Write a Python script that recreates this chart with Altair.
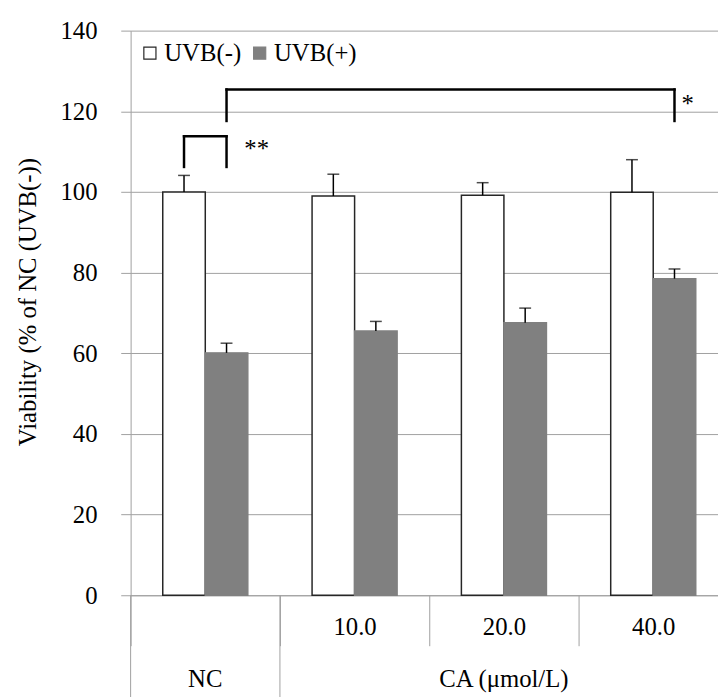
import altair as alt
import pandas as pd

# ---------------- data ----------------
groups = ["NC", "10.0", "20.0", "40.0"]
series = ["UVB(-)", "UVB(+)"]
uvb_minus = [100.0, 99.0, 99.2, 99.9]
uvb_minus_sd = [4.1, 5.4, 3.1, 8.1]
uvb_plus = [60.1, 65.5, 67.6, 78.5]
uvb_plus_sd = [2.4, 2.4, 3.6, 2.4]
y_ticks = [0, 20, 40, 60, 80, 100, 120, 140]
y_title = "Viability (% of NC (UVB(-))"
row2_groups = ["NC", "20.0"]
row2_labels = ["NC", "CA (μmol/L)"]
divider_groups = ["NC", "10.0"]

# significance brackets: (group, series) -> (group, series)
sig_from = [("NC", "UVB(-)"), ("NC", "UVB(+)")]
sig_to = [("NC", "UVB(+)"), ("40.0", "UVB(+)")]
sig_top = [113.8, 125.4]
sig_left_low = [106.2, 117.6]
sig_right_low = [106.2, 117.6]
sig_text = ["**", "*"]
sig_text_level = [108.7, 119.8]

# ---------------- style ----------------
FONT = "Liberation Serif"
FS = 25
GRID = "#a0a0a0"
BAR_GRAY = "#808080"
STEP = 151
BAR_W = 43
bar_frac = BAR_W / STEP
off_pad = (1 / bar_frac - 2) / 2
bp_center = {"UVB(-)": 0.5 - bar_frac / 2, "UVB(+)": 0.5 + bar_frac / 2}

rows = []
for g, v, e in zip(groups, uvb_minus, uvb_minus_sd):
    rows.append({"group": g, "series": "UVB(-)", "value": v, "upper": v + e})
for g, v, e in zip(groups, uvb_plus, uvb_plus_sd):
    rows.append({"group": g, "series": "UVB(+)", "value": v, "upper": v + e})
df = pd.DataFrame(rows)

x_scale = alt.Scale(domain=groups, range=[0, 4 * STEP], paddingInner=0, paddingOuter=0)
x_axis = alt.Axis(
    title=None,
    labelExpr="datum.value == 'NC' ? '' : datum.value",
    tickBand="extent",
    tickSize=51,
    tickColor=GRID,
    tickWidth=1,
    domainColor=GRID,
    domainWidth=1,
    labelPadding=-19,
    labelBaseline="middle",
    labelAngle=0,
    labelFont=FONT,
    labelFontSize=FS,
    labelFontWeight="normal",
    labelColor="black",
    labelOverlap=False,
    grid=False,
)
y_scale = alt.Scale(domain=[0, 140], nice=False, zero=True)
y_axis = alt.Axis(
    title=y_title,
    values=y_ticks,
    grid=True,
    gridColor=GRID,
    gridWidth=1,
    domainColor=GRID,
    domainWidth=1,
    tickColor=GRID,
    tickSize=10,
    tickWidth=1,
    labelPadding=24,
    labelFont=FONT,
    labelFontSize=FS,
    labelFontWeight="normal",
    labelColor="black",
    titleFont=FONT,
    titleFontSize=FS,
    titleFontWeight="normal",
    titleColor="black",
    titleX=-104,
    titleY=274,
    titleAngle=270,
    titleAlign="center",
    titleBaseline="middle",
)


def X(field="group", bp=None):
    kw = dict(scale=x_scale, axis=x_axis)
    if bp is not None:
        kw["bandPosition"] = bp
    return alt.X(f"{field}:N", **kw)


def Y(field):
    return alt.Y(f"{field}:Q", scale=y_scale, axis=y_axis)


xoff = alt.XOffset("series:N", scale=alt.Scale(domain=series, paddingInner=0, paddingOuter=off_pad))

legend = alt.Legend(
    orient="none", legendX=7, legendY=10, direction="horizontal", title=None,
    symbolType="square", symbolSize=150, symbolStrokeWidth=1.2,
    labelFont=FONT, labelFontSize=FS, labelColor="black", labelOffset=2,
    columnPadding=6, padding=0,
)

bars = alt.Chart(df).mark_bar(strokeWidth=1.5).encode(
    x=X(),
    xOffset=xoff,
    y=Y("value"),
    fill=alt.Fill("series:N", scale=alt.Scale(domain=series, range=["white", BAR_GRAY]), legend=legend),
    stroke=alt.Stroke("series:N", scale=alt.Scale(domain=series, range=["#262626", BAR_GRAY]), legend=legend),
)
err_rule = alt.Chart(df).mark_rule(color="black", strokeWidth=1.5).encode(
    x=X(), xOffset=xoff, y=Y("value"), y2="upper:Q"
)
err_cap = alt.Chart(df).mark_tick(color="black", thickness=1.5, size=12).encode(
    x=X(), xOffset=xoff, y=Y("upper")
)

layers = [bars, err_rule, err_cap]

BR = dict(color="black", strokeWidth=2.5, strokeCap="square")
for (g1, s1), (g2, s2), top, lo1, lo2, txt, tl, dx in zip(
    sig_from, sig_to, sig_top, sig_left_low, sig_right_low, sig_text, sig_text_level, [18, 7]
):
    bp1, bp2 = bp_center[s1], bp_center[s2]
    left = alt.Chart(pd.DataFrame({"group": [g1], "lo": [lo1], "hi": [top]})).mark_rule(**BR).encode(
        x=X(bp=bp1), y=Y("lo"), y2="hi:Q"
    )
    right = alt.Chart(pd.DataFrame({"group": [g2], "lo": [lo2], "hi": [top]})).mark_rule(**BR).encode(
        x=X(bp=bp2), y=Y("lo"), y2="hi:Q"
    )
    horiz = alt.Chart(pd.DataFrame({"group": [g1], "group2": [g2], "lvl": [top]})).mark_rule(**BR).encode(
        x=X(bp=bp1), x2=alt.X2("group2:N", bandPosition=bp2), y=Y("lvl")
    )
    label = alt.Chart(pd.DataFrame({"group": [g2], "lvl": [tl], "t": [txt]})).mark_text(
        font=FONT, fontSize=FS, align="left", baseline="alphabetic", dx=dx, color="black"
    ).encode(x=X(bp=bp2), y=Y("lvl"), text="t:N")
    layers += [left, right, horiz, label]

row2 = alt.Chart(pd.DataFrame({"group": row2_groups, "t": row2_labels})).mark_text(
    font=FONT, fontSize=FS, align="center", baseline="middle", color="black"
).encode(x=X(), y=alt.value(656), text="t:N")

dividers = alt.Chart(pd.DataFrame({"group": divider_groups})).mark_rule(color=GRID, strokeWidth=1).encode(
    x=X(bp=0), y=alt.value(571), y2=alt.value(720)
)
layers += [dividers, row2]

chart = (
    alt.layer(*layers)
    .properties(
        width=594,
        height=571,
        padding={"left": 124, "top": 19, "right": 0, "bottom": 99},
        autosize=alt.AutoSizeParams(type="none"),
        background="white",
    )
    .configure_view(stroke=None)
)

chart.save("out.html", embed_options={"renderer": "svg", "actions": False})
